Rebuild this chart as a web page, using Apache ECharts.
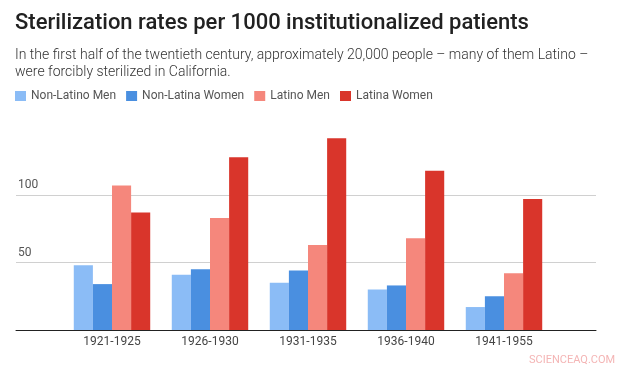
<!DOCTYPE html>
<html>
<head>
<meta charset="utf-8">
<script src="https://cdn.jsdelivr.net/npm/echarts@6/dist/echarts.min.js"></script>
<style>html,body{margin:0;padding:0;background:#fff}#c{width:625px;height:371px}</style>
</head>
<body>
<div id="c"></div>
<script>
const categories = ['1921-1925', '1926-1930', '1931-1935', '1936-1940', '1941-1955'];
const seriesNames = ['Non-Latino Men', 'Non-Latina Women', 'Latino Men', 'Latina Women'];
const nonLatinoMen = [48, 41, 35, 30, 17];
const nonLatinaWomen = [34, 45, 44, 33, 25];
const latinoMen = [107, 83, 63, 68, 42];
const latinaWomen = [87, 128, 142, 118, 97];
const yTicks = [0, 50, 100, 150];
const colors = ['#8bbcf6', '#4a8fe0', '#f5877c', '#d9352b'];

const chart = echarts.init(document.getElementById('c'), null, {renderer: 'canvas'});
const font = 'Roboto, "Noto Sans", sans-serif';
const seriesData = [nonLatinoMen, nonLatinaWomen, latinoMen, latinaWomen];

chart.setOption({
  backgroundColor: '#fff',
  animation: false,
  color: colors,
  title: [{
    text: 'Sterilization rates per 1000 institutionalized patients',
    left: 10, top: 7,
    textStyle: {fontFamily: font, fontSize: 22, fontWeight: 500, color: '#212121'}
  }, {
    text: 'In the first half of the twentieth century, approximately 20,000 people \u2013 many of them Latino \u2013\nwere forcibly sterilized in California.',
    left: 10, top: 42,
    textStyle: {fontFamily: font, fontSize: 14, fontWeight: 300, color: '#333', lineHeight: 17}
  }],
  legend: {
    data: seriesNames,
    left: 10, top: 85,
    itemWidth: 11, itemHeight: 10, itemGap: 10,
    icon: 'rect',
    textStyle: {fontFamily: font, fontSize: 12, color: '#555'}
  },
  grid: [
    {left: 16, right: 29, top: 127.5, bottom: 41},
    {left: 63, right: 72, top: 127.5, bottom: 41}
  ],
  xAxis: [{
    gridIndex: 0, type: 'value', min: 0, max: 1,
    axisLine: {show: true, lineStyle: {color: '#222', width: 1}},
    axisTick: {show: false}, axisLabel: {show: false}, splitLine: {show: false}
  }, {
    gridIndex: 1, type: 'category', data: categories,
    axisLine: {show: false}, axisTick: {show: false},
    axisLabel: {fontFamily: font, fontSize: 12, color: '#444', margin: 6}
  }],
  yAxis: [{
    gridIndex: 0, type: 'value', min: yTicks[0], max: yTicks[yTicks.length - 1], interval: 50,
    axisLine: {show: false}, axisTick: {show: false},
    splitLine: {show: true, showMinLine: false, showMaxLine: false, lineStyle: {color: '#d0d0d0', width: 1}},
    axisLabel: {
      inside: true, showMinLabel: false, showMaxLabel: false, margin: 2,
      fontFamily: font, fontSize: 12, color: '#555',
      verticalAlign: 'bottom', padding: [0, 0, 4, 0]
    }
  }, {
    gridIndex: 1, type: 'value', min: yTicks[0], max: yTicks[yTicks.length - 1], interval: 50,
    show: false
  }],
  series: seriesNames.map((name, i) => ({
    name: name, type: 'bar', xAxisIndex: 1, yAxisIndex: 1,
    data: seriesData[i], barGap: '0%', barCategoryGap: '22%',
    itemStyle: {color: colors[i]}
  })),
  graphic: [{
    type: 'text', left: 529, top: 355,
    style: {text: 'SCIENCEAQ.COM', fill: '#f4b5b5', font: '11px ' + font}
  }]
});
</script>
</body>
</html>
